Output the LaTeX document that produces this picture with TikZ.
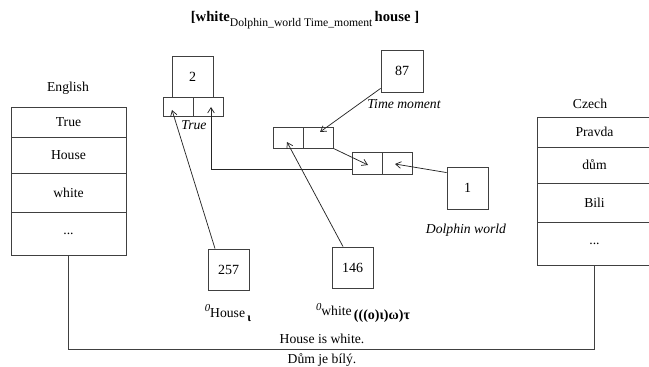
\documentclass[tikz,border=0pt]{standalone}
\usepackage{fontspec}
\setmainfont{Liberation Serif}
\usetikzlibrary{arrows.meta,calc}
\newdimen\pxu \pxu=0.75pt
\begin{document}
\begin{tikzpicture}[x=0.75pt,y=-0.75pt,
  font=\fontsize{10.25}{12}\selectfont,
  box/.style={draw=black!75,line width=0.65pt,inner sep=0pt},
  sq/.style={box,minimum width=41\pxu,minimum height=41\pxu,font=\fontsize{10.5}{12}\selectfont},
  cell/.style={box,minimum width=30\pxu,minimum height=#1\pxu},
  row/.style={box,minimum width=115\pxu,minimum height=#1\pxu},
  ptr/.style={draw=black!85,line width=0.55pt,-{Straight Barb[length=4pt,width=5pt]}},
  wire/.style={draw=black!75,line width=0.65pt},
  lbl/.style={inner sep=0pt}]
\useasboundingbox (0,0) rectangle (649,367);
\clip (0,0) rectangle (649,367);

% heading
\node[lbl] (title) at (305,20) {{\fontsize{11}{12}\selectfont\bfseries [white}\raisebox{-3.5pt}{\fontsize{8.75}{10}\selectfont Dolphin\_world Time\_moment}\,{\fontsize{11}{12}\selectfont\bfseries house ]}};

% English table
\node[lbl] (entitle) at (68,88) {English};
\node[row=30] (en1) at (68.5,122) {True};
\node[row=36] (en2) at (68.5,155) {House};
\node[row=39] (en3) at (68.5,192.5) {white};
\node[row=43] (en4) at (68.5,233.5) {...};

% Czech table
\node[lbl] (cztitle) at (590,104) {Czech};
\node[row=30] (cz1) at (594.5,132) {Pravda};
\node[row=36] (cz2) at (594.5,165) {dům};
\node[row=39] (cz3) at (594.5,202.5) {Bili};
\node[row=43] (cz4) at (594.5,243.5) {...};

% value boxes
\node[sq] (two) at (192.5,76.5) {2};
\node[cell=19] (tpl) at (178.5,106.5) {};
\node[cell=19] (tpr) at (208.5,106.5) {};
\node[lbl] (true) at (194,125) {\itshape True};

\node[sq,minimum width=42\pxu,minimum height=42\pxu] (b87) at (402,71) {87};
\node[lbl] (tm) at (404,104) {\itshape Time moment};

\node[cell=21] (mpl) at (288,137.5) {};
\node[cell=21] (mpr) at (318,137.5) {};

\node[cell=22] (rpl) at (367.5,163) {};
\node[cell=22] (rpr) at (397.5,163) {};

\node[sq,minimum height=42\pxu] (one) at (467.5,188) {1};
\node[lbl] (dw) at (466,230) {\itshape Dolphin world};

\node[sq] (b257) at (228.5,269.5) {257};
\node[sq] (b146) at (352.5,267.5) {146};

\node[lbl] (lhouse) at (228,313) {\raisebox{4pt}{\fontsize{8}{9}\selectfont\itshape 0}House\,\raisebox{-3pt}{\fontsize{9}{10}\selectfont\bfseries ι}};
\node[lbl] (lwhite) at (363,313) {\raisebox{4pt}{\fontsize{8}{9}\selectfont\itshape 0}white\,\raisebox{-3pt}{\fontsize{10.5}{11}\selectfont\bfseries (((o)ι)ω)τ}};

% pointers
\draw[ptr] ($(b257.north)+(-13.5,0)$) -- ($(tpl.center)+(-6.5,3.5)$);
\draw[ptr] ($(b146.north)+(-9.5,0)$) -- ($(mpl.center)+(-1,4.5)$);
\draw[ptr] ($(b87.south west)+(0,-4)$) -- ($(mpr.center)+(2,-5.5)$);
\draw[ptr] (mpr.south east) -- ($(rpl.center)+(0.5,2)$);
\draw[ptr] ($(one.north west)+(0,6)$) -- ($(rpr.center)+(-2.5,1)$);
\draw[ptr] ($(rpl.west)+(0,6)$) -| ($(tpr.center)+(2.5,0.5)$);

% sentence link between the two tables
\coordinate (bus) at (322,349);
\draw[wire] (en4.south) -- (en4.south |- bus) -| (cz4.south);
\node[lbl] (sen) at (322,339) {House is white.};
\node[lbl,anchor=base] (scz) at (322,363.5) {Dům je bílý.};
\end{tikzpicture}
\end{document}
